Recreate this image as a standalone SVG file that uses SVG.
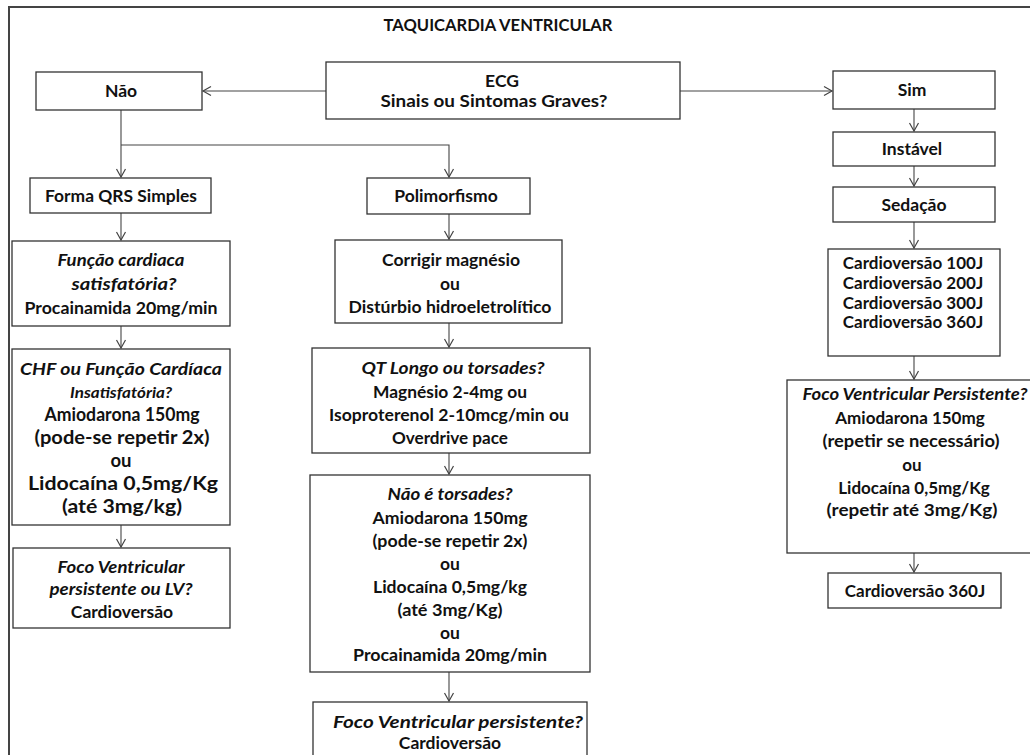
<svg xmlns="http://www.w3.org/2000/svg" width="1030" height="755" viewBox="0 0 1030 755">
<style>
  .box { fill: #fff; stroke: #333; stroke-width: 1.3; }
  .frame { fill: none; stroke: #444; stroke-width: 2; }
  .conn { fill: none; stroke: #444; stroke-width: 1.1; }
  text { font-family: Lato, "Open Sans", "Liberation Sans", sans-serif; font-weight: bold; font-size: 17.5px; fill: #111; text-anchor: middle; }
  .it { font-style: italic; }
  .title { font-size: 17px; }
  .sm { font-size: 17px; }
  .lg { font-size: 18.5px; }
</style>
<defs>
  <marker id="arr" markerUnits="userSpaceOnUse" markerWidth="12" markerHeight="12" refX="9" refY="6" orient="auto">
    <path d="M1,1.5 L9,6 L1,10.5" fill="none" stroke="#444" stroke-width="1.2"/>
  </marker>
</defs>
<rect width="1030" height="755" fill="#fff"/>
<path class="frame" d="M9,755 L9,7 L1030,7"/>
<text class="title" x="498" y="31" textLength="229" lengthAdjust="spacingAndGlyphs">TAQUICARDIA VENTRICULAR</text>

<g id="connectors">
  <path class="conn" d="M326,91 L203,91" marker-end="url(#arr)"/>
  <path class="conn" d="M680,91 L832,91" marker-end="url(#arr)"/>
  <path class="conn" d="M121,110 L121,177" marker-end="url(#arr)"/>
  <path class="conn" d="M121,145 L449,145 L449,177" marker-end="url(#arr)"/>
  <path class="conn" d="M121,213 L121,240" marker-end="url(#arr)"/>
  <path class="conn" d="M121,326 L121,348" marker-end="url(#arr)"/>
  <path class="conn" d="M121,525 L121,547" marker-end="url(#arr)"/>
  <path class="conn" d="M449,214 L449,239" marker-end="url(#arr)"/>
  <path class="conn" d="M449,323 L449,347" marker-end="url(#arr)"/>
  <path class="conn" d="M449,453 L449,474" marker-end="url(#arr)"/>
  <path class="conn" d="M449,672 L449,701" marker-end="url(#arr)"/>
  <path class="conn" d="M914,109 L914,131" marker-end="url(#arr)"/>
  <path class="conn" d="M914,166 L914,186" marker-end="url(#arr)"/>
  <path class="conn" d="M914,222 L914,248" marker-end="url(#arr)"/>
  <path class="conn" d="M914,356 L914,379" marker-end="url(#arr)"/>
  <path class="conn" d="M914,553 L914,572" marker-end="url(#arr)"/>
</g>

<g id="ecg">
  <rect class="box" x="326" y="62" width="354" height="57"/>
  <text x="502" y="87">ECG</text>
  <text x="494" y="107" textLength="227" lengthAdjust="spacingAndGlyphs">Sinais ou Sintomas Graves?</text>
</g>
<g id="nao">
  <rect class="box" x="36" y="72" width="166" height="38"/>
  <text x="121" y="97">Não</text>
</g>
<g id="sim">
  <rect class="box" x="833" y="71" width="162" height="38"/>
  <text x="912" y="96">Sim</text>
</g>
<g id="instavel">
  <rect class="box" x="833" y="132" width="162" height="34"/>
  <text x="912" y="155">Instável</text>
</g>
<g id="sedacao">
  <rect class="box" x="833" y="187" width="162" height="35"/>
  <text x="914" y="211">Sedação</text>
</g>
<g id="forma-qrs">
  <rect class="box" x="30" y="178" width="181" height="35"/>
  <text x="121" y="202" textLength="152" lengthAdjust="spacingAndGlyphs">Forma QRS Simples</text>
</g>
<g id="polimorfismo">
  <rect class="box" x="367" y="178" width="163" height="36"/>
  <text x="446" y="202">Polimorfismo</text>
</g>
<g id="funcao">
  <rect class="box" x="12" y="241" width="218" height="85"/>
  <text class="it" x="121" y="266" textLength="127" lengthAdjust="spacingAndGlyphs">Função cardiaca</text>
  <text class="it" x="124" y="290" textLength="105" lengthAdjust="spacingAndGlyphs">satisfatória?</text>
  <text x="121" y="314" textLength="193" lengthAdjust="spacingAndGlyphs">Procainamida 20mg/min</text>
</g>
<g id="chf">
  <rect class="box" x="12" y="349" width="218" height="176"/>
  <text class="it" x="121" y="375" textLength="202" lengthAdjust="spacingAndGlyphs">CHF ou Função Cardíaca</text>
  <text class="it" x="121" y="398" style="font-size:16px" textLength="102" lengthAdjust="spacingAndGlyphs">Insatisfatória?</text>
  <text class="lg" x="122" y="421" textLength="155" lengthAdjust="spacingAndGlyphs">Amiodarona 150mg</text>
  <text class="lg" x="122" y="444" textLength="175" lengthAdjust="spacingAndGlyphs">(pode-se repetir 2x)</text>
  <text class="lg" x="121" y="467">ou</text>
  <text class="lg" x="123" y="490" textLength="190" lengthAdjust="spacingAndGlyphs">Lidocaína 0,5mg/Kg</text>
  <text class="lg" x="122" y="513" textLength="120" lengthAdjust="spacingAndGlyphs">(até 3mg/kg)</text>
</g>
<g id="foco-esq">
  <rect class="box" x="13" y="548" width="217" height="80"/>
  <text class="it" x="121" y="573" textLength="127" lengthAdjust="spacingAndGlyphs">Foco Ventricular</text>
  <text class="it" x="121" y="595" textLength="143" lengthAdjust="spacingAndGlyphs">persistente ou LV?</text>
  <text x="122" y="618">Cardioversão</text>
</g>
<g id="corrigir">
  <rect class="box" x="335" y="240" width="227" height="83"/>
  <text x="451" y="266" textLength="138" lengthAdjust="spacingAndGlyphs">Corrigir magnésio</text>
  <text x="450" y="290">ou</text>
  <text x="450" y="313" textLength="203" lengthAdjust="spacingAndGlyphs">Distúrbio hidroeletrolítico</text>
</g>
<g id="qt">
  <rect class="box" x="312" y="348" width="278" height="105"/>
  <text class="it" x="453" y="374" textLength="183" lengthAdjust="spacingAndGlyphs">QT Longo ou torsades?</text>
  <text x="450" y="398" textLength="154" lengthAdjust="spacingAndGlyphs">Magnésio 2-4mg ou</text>
  <text x="449" y="421" textLength="240" lengthAdjust="spacingAndGlyphs">Isoproterenol 2-10mcg/min ou</text>
  <text x="450" y="444" textLength="116" lengthAdjust="spacingAndGlyphs">Overdrive pace</text>
</g>
<g id="nao-torsades">
  <rect class="box" x="310" y="475" width="280" height="197"/>
  <text class="it" x="450" y="500" textLength="125" lengthAdjust="spacingAndGlyphs">Não é torsades?</text>
  <text x="450" y="524" textLength="155" lengthAdjust="spacingAndGlyphs">Amiodarona 150mg</text>
  <text x="450" y="547" textLength="155" lengthAdjust="spacingAndGlyphs">(pode-se repetir 2x)</text>
  <text x="450" y="570">ou</text>
  <text x="450" y="593" textLength="154" lengthAdjust="spacingAndGlyphs">Lidocaína 0,5mg/kg</text>
  <text x="450" y="616" textLength="105" lengthAdjust="spacingAndGlyphs">(até  3mg/Kg)</text>
  <text x="450" y="639">ou</text>
  <text x="450" y="661" textLength="194" lengthAdjust="spacingAndGlyphs">Procainamida 20mg/min</text>
</g>
<g id="foco-centro">
  <rect class="box" x="313" y="702" width="274" height="60"/>
  <text class="it" x="458" y="728" textLength="250" lengthAdjust="spacingAndGlyphs">Foco Ventricular persistente?</text>
  <text x="450" y="749">Cardioversão</text>
</g>
<g id="cardioversao">
  <rect class="box" x="828" y="249" width="172" height="107"/>
  <text class="sm" x="913" y="269">Cardioversão 100J</text>
  <text class="sm" x="913" y="289">Cardioversão 200J</text>
  <text class="sm" x="913" y="309">Cardioversão 300J</text>
  <text class="sm" x="913" y="328">Cardioversão 360J</text>
</g>
<g id="foco-dir">
  <rect class="box" x="787" y="380" width="260" height="173"/>
  <text class="it" x="915" y="400" textLength="225" lengthAdjust="spacingAndGlyphs">Foco Ventricular Persistente?</text>
  <text class="sm" x="910" y="424">Amiodarona 150mg</text>
  <text class="sm" x="911" y="447" textLength="177" lengthAdjust="spacingAndGlyphs">(repetir se necessário)</text>
  <text class="sm" x="912" y="471">ou</text>
  <text class="sm" x="914" y="494">Lidocaína 0,5mg/Kg</text>
  <text class="sm" x="912" y="516" textLength="171" lengthAdjust="spacingAndGlyphs">(repetir até 3mg/Kg)</text>
</g>
<g id="cardio360">
  <rect class="box" x="828" y="573" width="173" height="35"/>
  <text class="sm" x="915" y="597">Cardioversão 360J</text>
</g>
</svg>
